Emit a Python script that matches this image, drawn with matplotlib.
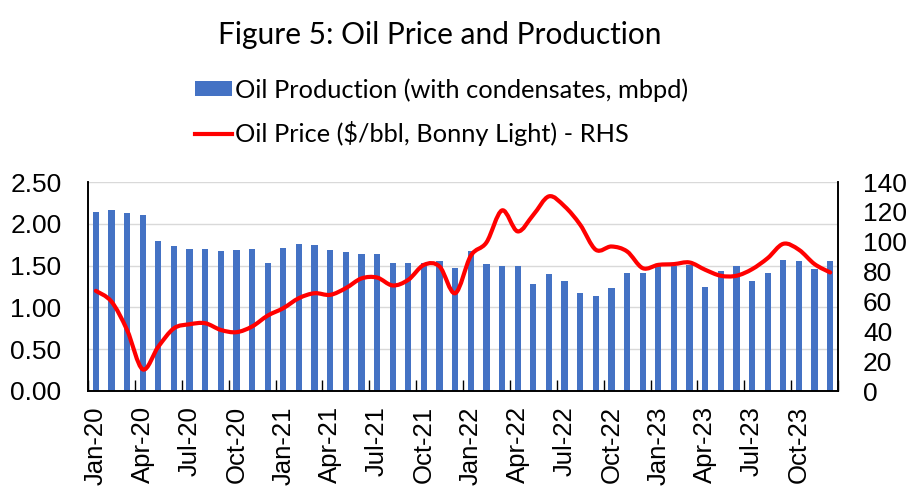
import numpy as np
import matplotlib
matplotlib.use('Agg')
import matplotlib.pyplot as plt
from matplotlib.path import Path
from matplotlib.patches import PathPatch, Patch
from matplotlib.lines import Line2D

months = ['Jan', 'Feb', 'Mar', 'Apr', 'May', 'Jun', 'Jul', 'Aug', 'Sep', 'Oct', 'Nov', 'Dec']
dates = [f'{m}-{y}' for y in ['20', '21', '22', '23'] for m in months]

production = [2.14, 2.16, 2.13, 2.10, 1.79, 1.73, 1.70, 1.70, 1.67, 1.69, 1.70, 1.53,
              1.71, 1.76, 1.75, 1.69, 1.66, 1.64, 1.64, 1.53, 1.53, 1.53, 1.55, 1.47,
              1.68, 1.52, 1.50, 1.49, 1.28, 1.40, 1.32, 1.17, 1.14, 1.23, 1.41, 1.41,
              1.49, 1.50, 1.51, 1.25, 1.43, 1.50, 1.31, 1.41, 1.57, 1.56, 1.46, 1.56]

price = [67.1, 59.9, 40.9, 14.5, 29.7, 42.0, 44.7, 45.4, 40.9, 39.4, 43.2, 50.5,
         55.5, 62.2, 65.5, 64.4, 68.9, 75.4, 76.0, 70.7, 74.5, 84.5, 83.4, 65.5,
         90.6, 99.5, 121.0, 106.9, 118.0, 130.4, 123.7, 111.4, 94.6, 96.8, 93.5, 82.3,
         84.5, 85.0, 86.1, 81.2, 77.2, 77.2, 81.6, 89.0, 98.6, 94.6, 85.0, 79.4]

label_font = 'Lato'
tick_font = 'Liberation Sans'

fig = plt.figure(figsize=(9.18, 5.03), dpi=100)
ax = fig.add_axes([88 / 918, 1 - 391 / 503, 750 / 918, 209 / 503])
ax2 = ax.twinx()

x = np.arange(len(dates))
bars = ax.bar(x, production, width=0.4, color='#4472C4', zorder=2)

ax.set_xlim(-0.5, len(dates) - 0.5)
ax.set_ylim(0, 2.5)
ax.set_yticks(np.arange(0, 2.51, 0.5))
ax.set_yticklabels([f'{v:.2f}' for v in np.arange(0, 2.51, 0.5)])
ax.yaxis.grid(True, color='#D9D9D9', linewidth=1, zorder=0)
ax.set_axisbelow(True)
ax.tick_params(axis='y', length=0, pad=19, labelsize=19)
for lbl in ax.get_yticklabels():
    lbl.set_fontfamily(tick_font)

# category labels every 3 months, tick marks at the category boundaries
ax.set_xticks(x[::3])
ax.set_xticklabels(dates[::3], rotation=90, fontsize=18.5, fontfamily=tick_font)
ax.tick_params(axis='x', length=0, pad=11)
ax.set_xticks(np.arange(-0.5, len(dates), 3), minor=True)
ax.tick_params(axis='x', which='minor', direction='in', length=8, width=1, color='black')

ax2.set_ylim(0, 140)
ax2.set_yticks(np.arange(0, 141, 20))
ax2.tick_params(axis='y', length=0, pad=18, labelsize=19)
for lbl in ax2.get_yticklabels():
    lbl.set_fontfamily(tick_font)

for a in (ax, ax2):
    a.spines['top'].set_visible(False)
    for s in ('left', 'right', 'bottom'):
        a.spines[s].set_color('black')
        a.spines[s].set_linewidth(1.2)

# smoothed price line (bezier through the monthly points, like excel's smooth line)
pts = np.column_stack([x, price]).astype(float)
verts = [tuple(pts[0])]
codes = [Path.MOVETO]
n = len(pts)
for i in range(n - 1):
    p0 = pts[max(i - 1, 0)]
    p1 = pts[i]
    p2 = pts[i + 1]
    p3 = pts[min(i + 2, n - 1)]
    c1 = p1 + (p2 - p0) / 6
    c2 = p2 - (p3 - p1) / 6
    verts += [tuple(c1), tuple(c2), tuple(p2)]
    codes += [Path.CURVE4] * 3
ax2.add_patch(PathPatch(Path(verts, codes), facecolor='none', edgecolor='#FF0000',
                        linewidth=3, capstyle='round', joinstyle='round', zorder=3))

fig.text(440 / 918, 1 - 35 / 503, 'Figure 5: Oil Price and Production',
         ha='center', va='center', fontsize=21.5, fontfamily=label_font)

handles = [Patch(facecolor='#4472C4', edgecolor='none'),
           Line2D([0], [0], color='#FF0000', linewidth=3)]
labels = ['Oil Production (with condensates, mbpd)', 'Oil Price ($/bbl, Bonny Light) - RHS']
fig.legend(handles, labels, loc='upper left', bbox_to_anchor=(195 / 918, 1 - 78 / 503),
           frameon=False, handlelength=1.45, handleheight=0.5,
           handletextpad=0.12, labelspacing=0.75, borderpad=0, borderaxespad=0,
           prop={'family': label_font, 'size': 18.3})

fig.savefig('out.png', dpi=100)
